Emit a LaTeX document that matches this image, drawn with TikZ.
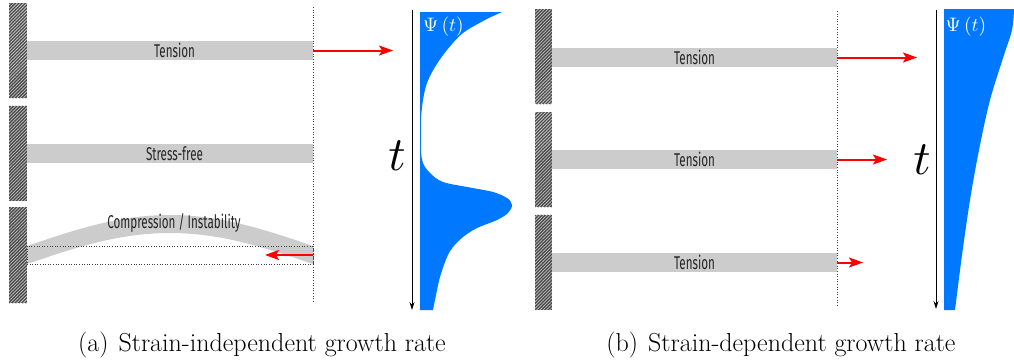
\documentclass[tikz,border=0pt]{standalone}
\usepackage{fontspec}
\newfontfamily\labfont[FakeStretch=0.63]{Fira Sans}
\usetikzlibrary{arrows.meta,patterns.meta}
\definecolor{psiblue}{RGB}{0,120,255}
\definecolor{beamgray}{RGB}{204,204,204}
\begin{document}
\begin{tikzpicture}[x=1pt,y=-1pt,
  wall/.style={rectangle, inner sep=0pt, minimum width=18pt, minimum height=95pt,
    fill=black!72, postaction={pattern={Lines[angle=45,distance=2.3pt,line width=0.75pt]}, pattern color=white!78!black}},
  beam/.style={rectangle, fill=beamgray, inner sep=0pt, minimum height=19pt,
    font=\labfont\fontsize{18.5}{18.5}\selectfont, text=black!85},
  lab/.style={font=\labfont\fontsize{18.5}{18.5}\selectfont, text=black!85, inner sep=0pt},
  guide/.style={dotted, black!75, line width=0.6pt},
  redarrow/.style={draw=red, line width=2pt, -{Stealth[length=14pt,width=10pt,inset=3pt]}},
  taxis/.style={black, line width=0.9pt, -{Stealth[length=8pt,width=5pt]}},
  captxt/.style={font=\fontsize{26}{26}\selectfont, anchor=base, inner sep=0pt}]
\useasboundingbox (0,0) rectangle (1014,362);

% ===== Left panel =====
\node[wall] (wa1) at (18,50.5) {};
\node[wall] (wa2) at (18,153) {};
\node[wall, minimum height=96pt] (wa3) at (18,255) {};

\coordinate (ga1) at (313,7);
\coordinate (ga2) at (313,303);
\draw[guide] (ga1) -- (ga2);

\node[beam, minimum width=286pt] (ba1) at (170,50.5) {\hspace*{9pt}Tension};
\node[beam, minimum width=286pt] (ba2) at (170,153.5) {\hspace*{9pt}Stress-free};

% compression arch
\fill[beamgray] plot[domain=27:313,samples=80] (\x,{246-31*sin((\x-27)/286*180)})
  -- plot[domain=313:27,samples=80] (\x,{264-31*sin((\x-27)/286*180)}) -- cycle;
\node[lab] (ca) at (174,223) {Compression / Instability};
\node[draw, guide, rectangle, inner sep=0pt, minimum width=286pt, minimum height=18pt] (ba3) at (170,255) {};

\coordinate (ea1) at (393,50.5);
\coordinate (ea3) at (265,255);
\draw[redarrow] (ba1.east) -- (ea1);
\draw[redarrow] (ba3.east) -- (ea3);

% time axis + Psi
\coordinate (ta1) at (412,10);
\coordinate (ta2) at (412,310);
\draw[taxis] (ta1) -- (ta2);
\fill[psiblue] (420,310) -- (420,12) --
  plot[smooth, tension=0.55] coordinates {(502,12) (485,20) (463,33) (447,50) (435,67)
   (427,83) (423,100) (421,120) (421,150) (423,163) (430,173) (443,182) (470,187.5)
   (493,192) (507,198) (512,205) (508,213) (497,220) (477,228) (463,237) (453,247)
   (447,257) (440,277) (436,295) (433,310)} -- cycle;
\node[text=white, inner sep=0pt] (pa) at (443.5,27) {\scalebox{1.95}{$\Psi\left(t\right)$}};
\node[inner sep=0pt] (tla) at (397,156) {\scalebox{4.8}{$t$}};

\node[captxt] (capa) at (262,351) {(a)\hspace{10pt}Strain-independent growth rate};

% ===== Right panel =====
\node[wall, minimum width=17pt] (wb1) at (543.5,56.5) {};
\node[wall, minimum width=17pt] (wb2) at (543.5,159.5) {};
\node[wall, minimum width=17pt] (wb3) at (543.5,262) {};

\coordinate (gb1) at (837,11);
\coordinate (gb2) at (837,306);
\draw[guide] (gb1) -- (gb2);

\node[beam, minimum width=285pt] (bb1) at (694.5,57.5) {Tension};
\node[beam, minimum width=285pt] (bb2) at (694.5,159.5) {Tension};
\node[beam, minimum width=285pt] (bb3) at (694.5,262.5) {Tension};

\coordinate (eb1) at (917,57.5);
\coordinate (eb2) at (887,159.5);
\coordinate (eb3) at (863,262.5);
\draw[redarrow] (bb1.east) -- (eb1);
\draw[redarrow] (bb2.east) -- (eb2);
\draw[redarrow] (bb3.east) -- (eb3);

\coordinate (tb1) at (936,10);
\coordinate (tb2) at (936,309);
\draw[taxis] (tb1) -- (tb2);
\fill[psiblue] (944,310) -- (944,9) --
  plot[smooth, tension=0.55] coordinates {(1014,9) (1012,30) (1004,55) (990,100)
   (979,150) (970,200) (962,255) (955,310)} -- cycle;
\node[text=white, inner sep=0pt] (pb) at (966,27) {\scalebox{1.95}{$\Psi\left(t\right)$}};
\node[inner sep=0pt] (tlb) at (922,160) {\scalebox{4.8}{$t$}};

\node[captxt] (capb) at (781,351) {(b)\hspace{10pt}Strain-dependent growth rate};
\end{tikzpicture}
\end{document}
